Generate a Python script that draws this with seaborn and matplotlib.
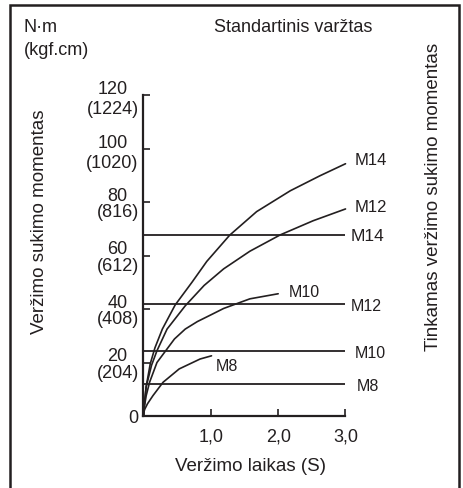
import numpy as np
import pandas as pd
import matplotlib
matplotlib.use('Agg')
import matplotlib.pyplot as plt
from matplotlib.patches import Rectangle
import seaborn as sns

# Tightening torque curves (time in s, torque in N·m)
time_m14 = [0, 0.01, 0.04, 0.10, 0.17, 0.28, 0.47, 0.72, 0.94, 1.28, 1.68, 2.18, 2.62, 3.0]
torque_m14 = [0, 4, 11, 19.5, 25.5, 32.5, 41.5, 50, 57.8, 67.6, 76.4, 84.2, 89.8, 94.3]

time_m12 = [0, 0.01, 0.04, 0.12, 0.2, 0.35, 0.62, 0.9, 1.19, 1.58, 2.03, 2.52, 3.0]
torque_m12 = [0, 3.5, 11, 19, 24.4, 32.5, 41.2, 48.8, 55, 61.6, 67.7, 73, 77.4]

time_m10 = [0, 0.01, 0.04, 0.09, 0.2, 0.33, 0.46, 0.62, 0.8, 1.0, 1.19, 1.58, 2.0]
torque_m10 = [0, 3, 7.6, 12.6, 20, 24.4, 28.8, 32.5, 35.3, 37.8, 40.2, 43.8, 45.7]

time_m8 = [0, 0.005, 0.02, 0.06, 0.14, 0.29, 0.53, 0.84, 1.01]
torque_m8 = [0, 1.5, 2.6, 4.6, 7.6, 12.6, 17.6, 21.3, 22.5]

# Recommended torque (horizontal lines)
bolts = ['M8', 'M10', 'M12', 'M14']
recommended_torque = [11.8, 24.4, 41.7, 67.8]

# Axis ticks
x_ticks = [1.0, 2.0, 3.0]
x_tick_labels = ['1,0', '2,0', '3,0']
y_ticks = [0, 20, 40, 60, 80, 100, 120]
y_tick_labels = ['0', '20\n(204)', '40\n(408)', '60\n(612)', '80\n(816)',
                 '100\n(1020)', '120\n(1224)']

curves = pd.concat([
    pd.DataFrame({'time': time_m14, 'torque': torque_m14, 'bolt': 'M14'}),
    pd.DataFrame({'time': time_m12, 'torque': torque_m12, 'bolt': 'M12'}),
    pd.DataFrame({'time': time_m10, 'torque': torque_m10, 'bolt': 'M10'}),
    pd.DataFrame({'time': time_m8, 'torque': torque_m8, 'bolt': 'M8'}),
])

sns.set_style('ticks')
plt.rcParams['font.family'] = ['Liberation Sans', 'DejaVu Sans']
ink = '#231f20'

W, H = 464, 489
fig = plt.figure(figsize=(W / 100, H / 100), dpi=100)
ax = fig.add_axes([143.5 / W, 72 / H, 202 / W, 321 / H])

sns.lineplot(data=curves, x='time', y='torque', hue='bolt',
             palette={b: ink for b in bolts}, estimator=None, sort=True,
             legend=False, linewidth=1.2, ax=ax)
ax.hlines(recommended_torque, 0, x_ticks[-1], color=ink, linewidth=1.3)
for ln in ax.lines + ax.collections:
    ln.set_clip_on(False)
for ln in ax.lines:
    ln.set_solid_joinstyle('round')

ax.set_xlim(0, 3.0)
ax.set_ylim(0, 120)
ax.set_xlabel('')
ax.set_ylabel('')
ax.set_xticks(x_ticks)
ax.set_xticklabels(x_tick_labels)
ax.set_yticks(y_ticks)
ax.set_yticklabels(y_tick_labels)
for i, lbl in enumerate(ax.get_yticklabels()):
    lbl.set_multialignment('center')
    lbl.set_linespacing(1.25 if i >= 5 else 0.95)
ax.tick_params(axis='both', direction='in', length=5, width=1.2,
               colors=ink, labelsize=13)
ax.tick_params(axis='y', pad=3.5)
ax.tick_params(axis='x', pad=8)
sns.despine(ax=ax)
for s in ['left', 'bottom']:
    ax.spines[s].set_linewidth(1.6)
    ax.spines[s].set_color(ink)

# curve end labels
curve_ends = [(time_m14, torque_m14, 'M14', 0.14, 1.5, 12),
              (time_m12, torque_m12, 'M12', 0.13, 1.0, 12),
              (time_m10, torque_m10, 'M10', 0.16, 1.0, 11.5),
              (time_m8, torque_m8, 'M8', 0.07, -3.8, 11.5)]
for t, v, name, dx, dy, fs in curve_ends:
    ax.text(t[-1] + dx, v[-1] + dy, name, fontsize=fs, color=ink,
            va='center', ha='left', clip_on=False)

# recommended torque labels
for name, level, dx, fs in zip(bolts, recommended_torque,
                               [0.16, 0.13, 0.08, 0.08], [11.5, 11.5, 11.5, 12.5]):
    ax.text(x_ticks[-1] + dx, level - 0.5, name, fontsize=fs, color=ink,
            va='center', ha='left', clip_on=False)


def px(x, y):
    return x / W, 1 - y / H


fig.text(*px(24, 28), 'N·m', fontsize=13, color=ink, va='center', ha='left')
fig.text(*px(24, 51), '(kgf.cm)', fontsize=13, color=ink, va='center', ha='left')
fig.text(*px(293, 28), 'Standartinis varžtas', fontsize=13, color=ink,
         va='center', ha='center')
fig.text(*px(40, 222), 'Veržimo sukimo momentas', fontsize=13.5, color=ink,
         va='center', ha='center', rotation=90)
fig.text(*px(434, 197), 'Tinkamas veržimo sukimo momentas', fontsize=13.5,
         color=ink, va='center', ha='center', rotation=90)
fig.text(*px(251, 467), 'Veržimo laikas (S)', fontsize=13.5, color=ink,
         va='center', ha='center')

# outer frame (open at the bottom edge of the picture)
fig.patches.append(Rectangle((10 / W, -0.1), 449 / W, 1.1 - 6 / H,
                             transform=fig.transFigure, fill=False,
                             edgecolor=ink, linewidth=1.8))

fig.savefig('out.png', dpi=100)
